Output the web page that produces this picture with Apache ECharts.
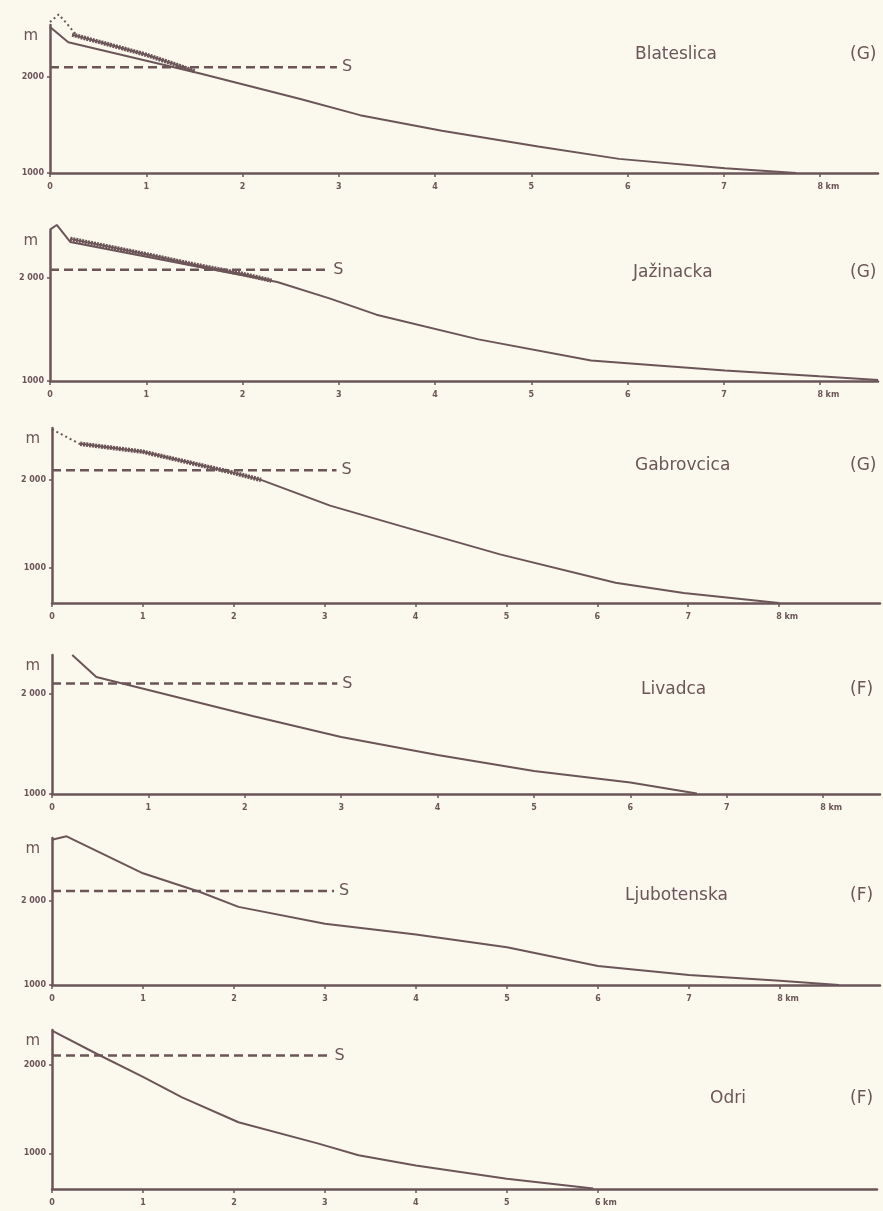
<!DOCTYPE html>
<html>
<head>
<meta charset="utf-8">
<script src="https://cdn.jsdelivr.net/npm/echarts@6/dist/echarts.min.js"></script>
<style>
  html, body { margin: 0; padding: 0; background: #fbf9ed; }
  #chart { width: 883px; height: 1211px; }
</style>
</head>
<body>
<div id="chart"></div>
<script>
// ---------- data (distance km, elevation m) ----------
const panelNames = ['Blateslica', 'Jažinacka', 'Gabrovcica', 'Livadca', 'Ljubotenska', 'Odri'];
const panelTypes = ['(G)', '(G)', '(G)', '(F)', '(F)', '(F)'];

const bed1 = [[0, 2520], [0.19, 2360], [1.56, 2035], [2.6, 1770], [3.22, 1602], [4.07, 1440], [5.07, 1276], [5.91, 1147], [7.01, 1049], [7.75, 1000]];
const upper1 = [[0, 2570], [0.09, 2650], [0.17, 2560], [0.28, 2430]];
const ice1 = [[0.23, 2440], [0.6, 2340], [1.0, 2230], [1.3, 2130], [1.5, 2060]];

const bed2 = [[0, 2470], [0.07, 2515], [0.21, 2350], [2.36, 1961], [2.91, 1800], [3.39, 1644], [4.45, 1404], [5.62, 1199], [6.1, 1165], [7.01, 1103], [7.99, 1045], [8.6, 1010]];
const ice2 = [[0.21, 2380], [1.0, 2230], [1.5, 2130], [2.0, 2040], [2.3, 1975]];

const upper3 = [[0, 2576], [0.31, 2406]];
const ice3 = [[0.31, 2410], [1.0, 2320], [1.5, 2200], [2.0, 2080], [2.3, 2000]];
const bed3 = [[2.3, 2000], [3.06, 1707], [3.84, 1474], [4.93, 1153], [6.2, 830], [6.95, 713], [8.0, 600]];

const bed4 = [[0.21, 2390], [0.46, 2170], [1.0, 2040], [2.08, 1780], [3.0, 1570], [4.0, 1390], [5.0, 1230], [6.0, 1115], [6.69, 1005]];

const bed5 = [[0, 2730], [0.16, 2770], [1.0, 2330], [1.62, 2110], [2.05, 1930], [3.0, 1730], [4.0, 1600], [5.0, 1450], [6.0, 1225], [7.0, 1120], [8.0, 1050], [8.65, 1000]];

const bed6 = [[0, 2380], [0.49, 2120], [1.0, 1860], [1.43, 1630], [2.05, 1350], [2.93, 1110], [3.37, 980], [4.0, 865], [5.0, 715], [5.95, 605]];

const snowLine = [2100, 2080, 2110, 2105, 2120, 2100];
const snowLineEnd = [2.98, 2.89, 3.13, 2.96, 3.1, 3.05];
const xTickLabels = [
  [0, 1, 2, 3, 4, 5, 6, 7, 8],
  [0, 1, 2, 3, 4, 5, 6, 7, 8],
  [0, 1, 2, 3, 4, 5, 6, 7, 8],
  [0, 1, 2, 3, 4, 5, 6, 7, 8],
  [0, 1, 2, 3, 4, 5, 6, 7, 8],
  [0, 1, 2, 3, 4, 5, 6]
];
const yTickValues = [1000, 2000];
const yTickText = [['1000', '2000'], ['1000', '2 000'], ['1000', '2 000'], ['1000', '2 000'], ['1000', '2 000'], ['1000', '2000']];

// ---------- layout ----------
const INK = '#6c5559';
const layout = [
  { left: 50, top: 25, width: 828, height: 148, xMax: 8.6, yMin: 1000, yMax: 2540, titleTop: 41, titleLeft: 630 },
  { left: 50, top: 230, width: 828, height: 151, xMax: 8.6, yMin: 1000, yMax: 2466, titleTop: 259, titleLeft: 628 },
  { left: 52, top: 428, width: 828, height: 175, xMax: 9.11, yMin: 600, yMax: 2590, titleTop: 452, titleLeft: 630 },
  { left: 52, top: 655, width: 828, height: 139, xMax: 8.59, yMin: 1000, yMax: 2390, titleTop: 676, titleLeft: 636 },
  { left: 52, top: 838, width: 828, height: 147, xMax: 9.1, yMin: 1000, yMax: 2750, titleTop: 882, titleLeft: 620 },
  { left: 52, top: 1030, width: 825, height: 159, xMax: 9.07, yMin: 600, yMax: 2387, titleTop: 1085, titleLeft: 705 }
];

const panelSeries = [
  [{ d: bed1, kind: 'bed' }, { d: upper1, kind: 'dot' }, { d: ice1, kind: 'ice' }],
  [{ d: bed2, kind: 'bed' }, { d: ice2, kind: 'ice' }],
  [{ d: upper3, kind: 'dot' }, { d: ice3, kind: 'ice' }, { d: bed3, kind: 'bed' }],
  [{ d: bed4, kind: 'bed' }],
  [{ d: bed5, kind: 'bed' }],
  [{ d: bed6, kind: 'bed' }]
];

const grids = [], xAxes = [], yAxes = [], series = [], titles = [];
layout.forEach((L, i) => {
  grids.push({ left: L.left, top: L.top, width: L.width, height: L.height, containLabel: false });
  const lastTick = xTickLabels[i][xTickLabels[i].length - 1];
  xAxes.push({
    type: 'value', gridIndex: i, min: 0, max: L.xMax,
    axisLine: { show: true, lineStyle: { color: INK, width: 2.5 } },
    axisTick: { show: true, customValues: xTickLabels[i], length: 4, lineStyle: { color: INK, width: 1.5 } },
    axisLabel: {
      customValues: xTickLabels[i], margin: 10, color: INK, fontSize: 8, fontWeight: 'bold',
      fontFamily: 'DejaVu Sans',
      formatter: v => v === lastTick ? '{p|}' + v + '{k| km}' : String(v),
      rich: { p: { width: 16 }, k: { width: 16, fontSize: 8, fontWeight: 'bold', color: INK, fontFamily: 'DejaVu Sans' } }
    },
    splitLine: { show: false }
  });
  yAxes.push({
    type: 'value', gridIndex: i, min: L.yMin, max: L.yMax,
    name: 'm', nameLocation: 'end', nameGap: -4,
    nameTextStyle: { color: INK, fontSize: 15, fontFamily: 'DejaVu Sans', align: 'right', verticalAlign: 'top', padding: [0, 12, 0, 0] },
    axisLine: { show: true, lineStyle: { color: INK, width: 2.5 } },
    axisTick: { show: true, customValues: yTickValues, length: 3, lineStyle: { color: INK, width: 1.5 } },
    axisLabel: {
      customValues: yTickValues, margin: 6, color: INK, fontSize: 8, fontWeight: 'bold', fontFamily: 'DejaVu Sans',
      formatter: v => yTickText[i][yTickValues.indexOf(v)]
    },
    splitLine: { show: false }
  });
  panelSeries[i].forEach(s => {
    const style = s.kind === 'bed' ? { color: INK, width: 2 }
      : s.kind === 'dot' ? { color: INK, width: 2, type: [2, 3] }
      : { color: INK, width: 4.5, type: [2, 1] };
    series.push({
      type: 'line', xAxisIndex: i, yAxisIndex: i, data: s.d, symbol: 'none',
      lineStyle: style, clip: false, silent: true, animation: false
    });
    if (s.kind === 'ice') {
      series.push({
        type: 'line', xAxisIndex: i, yAxisIndex: i, data: s.d, symbol: 'none',
        lineStyle: { color: INK, width: 2 }, clip: false, silent: true, animation: false
      });
    }
  });
  series.push({
    type: 'line', xAxisIndex: i, yAxisIndex: i,
    data: [[0, snowLine[i]], [snowLineEnd[i], snowLine[i]]], symbol: 'none',
    lineStyle: { color: INK, width: 2.5, type: [9, 5] }, clip: false, silent: true, animation: false,
    endLabel: { show: true, formatter: 'S', color: INK, fontSize: 16, fontFamily: 'DejaVu Sans', distance: 5 }
  });
  titles.push({ text: panelNames[i], left: L.titleLeft, top: L.titleTop,
    textStyle: { color: INK, fontSize: 17, fontWeight: 'normal', fontFamily: 'DejaVu Sans' } });
  titles.push({ text: panelTypes[i], left: 845, top: L.titleTop,
    textStyle: { color: INK, fontSize: 17, fontWeight: 'normal', fontFamily: 'DejaVu Sans' } });
});

const chart = echarts.init(document.getElementById('chart'), null, { renderer: 'canvas' });
chart.setOption({
  backgroundColor: '#fbf9ed',
  animation: false,
  title: titles,
  grid: grids,
  xAxis: xAxes,
  yAxis: yAxes,
  series: series
});
</script>
</body>
</html>
